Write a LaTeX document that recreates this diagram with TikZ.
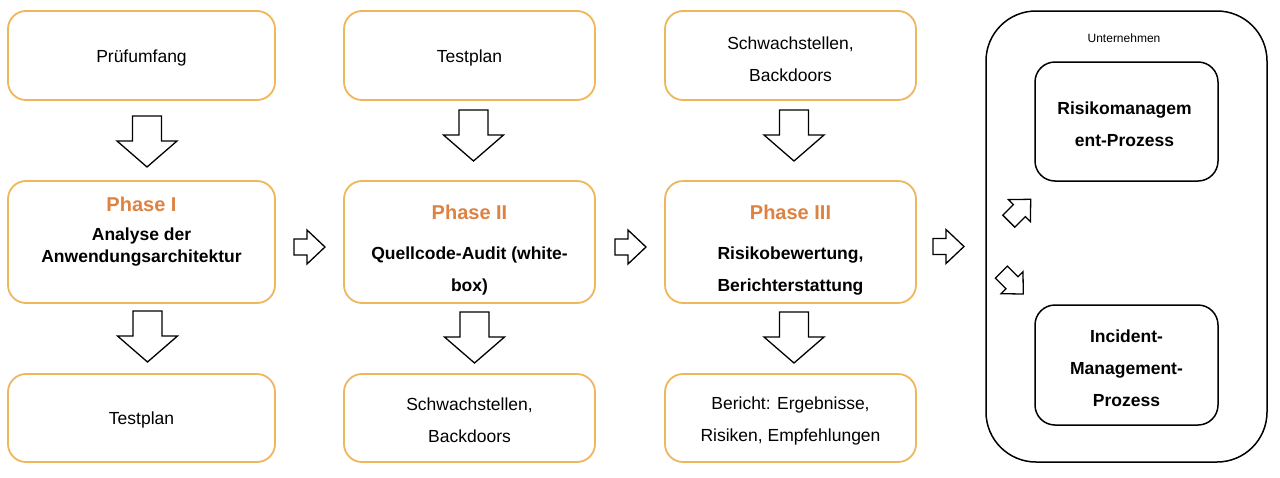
\documentclass[tikz,border=0pt]{standalone}
\usepackage{fontspec}
\setmainfont{Liberation Sans}
\definecolor{boxor}{RGB}{240,182,92}
\definecolor{phaseor}{RGB}{222,130,66}
\begin{document}
\begin{tikzpicture}[x=1pt,y=-1pt,
  obox/.style={draw=boxor, line width=1.8pt, rounded corners=18pt, fill=white, inner sep=0pt},
  kbox/.style={draw=black, line width=1.5pt, inner sep=0pt},
  txt/.style={font=\fontsize{17.5}{32}\selectfont, align=center, inner sep=0pt},
  btxt/.style={font=\bfseries\fontsize{17.5}{32}\selectfont, align=center, inner sep=0pt},
  phase/.style={font=\bfseries\fontsize{20}{24}\selectfont, text=phaseor, inner sep=0pt},
  blk/.style={draw=black, line width=1.3pt, fill=white, line join=miter},
  pics/downarr/.style={code={\draw[blk] (-14.5,0) -- (14.5,0) -- (14.5,25) -- (30,25) -- (0,51) -- (-30,25) -- (-14.5,25) -- cycle;}},
  pics/rightarr/.style={code={\draw[blk] (0,-8) -- (13,-8) -- (13,-17) -- (31,0) -- (13,17) -- (13,8) -- (0,8) -- cycle;}},
  pics/diagarr/.style={code={\draw[blk] (0,-8.5) -- (15,-8.5) -- (15,-15.5) -- (31,0) -- (15,15.5) -- (15,8.5) -- (0,8.5) -- cycle;}}
]
\useasboundingbox (0,0) rectangle (1280,477);

% column 1
\node[obox, minimum width=267pt, minimum height=89pt] (t1) at (141.5,55.5) {};
\node[txt] (t1t) at (141.5,58) {Prüfumfang};
\node[obox, minimum width=267pt, minimum height=122pt] (p1) at (141.5,242) {};
\node[phase] (p1a) at (141.5,204) {Phase I};
\node[btxt, font=\bfseries\fontsize{17.5}{22}\selectfont] (p1b) at (141.5,247) {Analyse der\\Anwendungsarchitektur};
\node[obox, minimum width=267pt, minimum height=88pt] (b1) at (141.5,418) {};
\node[txt] (b1t) at (141.5,420) {Testplan};

% column 2
\node[obox, minimum width=251pt, minimum height=89pt] (t2) at (469.5,55.5) {};
\node[txt] (t2t) at (469.5,58) {Testplan};
\node[obox, minimum width=251pt, minimum height=122pt] (p2) at (469.5,242) {};
\node[phase] (p2a) at (469.5,212) {Phase II};
\node[btxt] (p2b) at (469.5,271) {Quellcode-Audit (white-\\box)};
\node[obox, minimum width=251pt, minimum height=88pt] (b2) at (469.5,418) {};
\node[txt] (b2t) at (469.5,420.5) {Schwachstellen,\\Backdoors};

% column 3
\node[obox, minimum width=251pt, minimum height=89pt] (t3) at (790.5,55.5) {};
\node[txt] (t3t) at (790.5,59) {Schwachstellen,\\Backdoors};
\node[obox, minimum width=251pt, minimum height=122pt] (p3) at (790.5,242) {};
\node[phase] (p3a) at (790.5,212) {Phase III};
\node[btxt] (p3b) at (790.5,271) {Risikobewertung,\\Berichterstattung};
\node[obox, minimum width=251pt, minimum height=88pt] (b3) at (790.5,418) {};
\node[txt] (b3t) at (790.5,420.5) {Bericht: Ergebnisse,\\Risiken, Empfehlungen};

% company container
\node[kbox, rounded corners=50pt, minimum width=281pt, minimum height=451pt] (u) at (1126.5,236.5) {};
\node[txt, font=\fontsize{12}{14}\selectfont] (ut) at (1124,38) {Unternehmen};
\node[kbox, rounded corners=20pt, minimum width=183pt, minimum height=119pt] (r) at (1126.5,121.5) {};
\node[btxt] (rt) at (1124.5,124) {Risikomanagem\\ent-Prozess};
\node[kbox, rounded corners=20pt, minimum width=183pt, minimum height=120pt] (i) at (1126.5,365) {};
\node[btxt] (it) at (1126.5,368.5) {Incident-\\Management-\\Prozess};

% down block arrows
\pic at (147,116) {downarr};
\pic at (147.5,311) {downarr};
\pic at (473.5,110) {downarr};
\pic at (474.5,312) {downarr};
\pic at (794,110) {downarr};
\pic at (794,312) {downarr};

% right block arrows
\pic at (294,247) {rightarr};
\pic at (615,247) {rightarr};
\pic at (933,246.5) {rightarr};

% diagonal arrows
\pic[rotate=45] at (1008.8,221.2) {diagarr};
\pic[rotate=-45] at (1001.4,272.1) {diagarr};
\end{tikzpicture}
\end{document}
